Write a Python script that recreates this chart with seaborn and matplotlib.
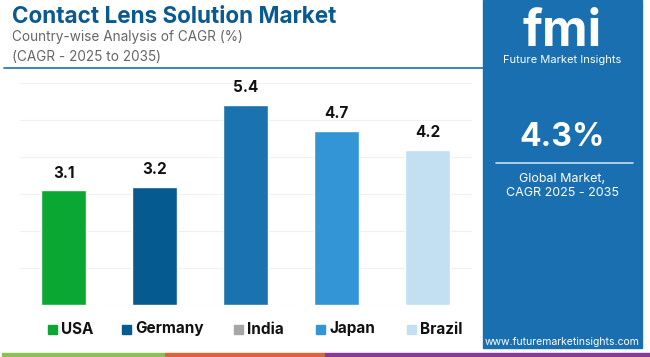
import matplotlib
matplotlib.use("Agg")
import matplotlib.pyplot as plt
import seaborn as sns
import pandas as pd
from matplotlib.patches import Rectangle

# Data
countries = ["USA", "Germany", "India", "Japan", "Brazil"]
cagr = [3.1, 3.2, 5.4, 4.7, 4.2]
bar_colors = ["#0aa832", "#055a8f", "#1a73ae", "#3395d5", "#c2e0f2"]
legend_colors = ["#0aa832", "#055a8f", "#a6a6a6", "#3395d5", "#c2e0f2"]
global_cagr = "4.3%"

df = pd.DataFrame({"country": countries, "cagr": cagr})

sns.set_theme(style="white")
plt.rcParams["font.family"] = ["Inter", "DejaVu Sans"]

W, H = 650, 357
fig = plt.figure(figsize=(W / 100, H / 100), dpi=100)
fig.patch.set_facecolor("white")

def fx(px):
    return px / W

def fy(py):
    return 1 - py / H

# plot area
ax = fig.add_axes([fx(20), fy(305), fx(472) - fx(20), fy(83) - fy(305)])
sns.barplot(data=df, x="country", y="cagr", hue="country", palette=bar_colors,
            width=0.5, legend=False, ax=ax, saturation=1)
ax.set_xlim(-0.48, 4.49)
ax.set_ylim(0, 6)
ax.set_yticks(range(0, 7))
ax.yaxis.grid(True, color="#f0f0f0", linewidth=0.8)
ax.set_axisbelow(True)
for s in ax.spines.values():
    s.set_visible(False)
ax.set_xticks([])
ax.set_yticklabels([])
ax.tick_params(left=False, bottom=False)
ax.set_xlabel("")
ax.set_ylabel("")
for cont in ax.containers:
    ax.bar_label(cont, fmt="%.1f", padding=7, fontsize=11, fontweight="bold", color="#111111")

# title block
fig.text(fx(12), fy(17), "Contact Lens Solution Market", fontsize=16.2, fontweight="bold",
         color="#0b5a8f", va="center", ha="left")
fig.text(fx(12), fy(37), "Country-wise Analysis of CAGR (%)", fontsize=9.8,
         color="#666666", va="center", ha="left")
fig.text(fx(12), fy(57), "(CAGR - 2025 to 2035)", fontsize=9.8,
         color="#666666", va="center", ha="left")
fig.add_artist(plt.Line2D([fx(4), fx(483)], [fy(68), fy(68)], color="#1a6fb0", linewidth=1.2))

# legend
leg_sq = [48, 122, 234, 316, 407]
for x0, name, col in zip(leg_sq, countries, legend_colors):
    fig.add_artist(Rectangle((fx(x0), fy(334)), fx(9), 9 / H, color=col, transform=fig.transFigure))
    fig.text(fx(x0 + 13), fy(329), name, fontsize=11, fontweight="bold", color="#111111",
             va="center", ha="left")

# bottom coloured strip
for x0, x1, col in [(2, 165, "#8cc152"), (165, 325, "#e0643a"), (325, 650, "#8a3b97")]:
    fig.add_artist(Rectangle((fx(x0), 0), fx(x1) - fx(x0), 4 / H, color=col, transform=fig.transFigure))

# right panel
fig.add_artist(Rectangle((fx(483), fy(348)), fx(642) - fx(483), 348 / H, color="#1a6fb0",
                         transform=fig.transFigure, zorder=2))
fig.text(fx(562), fy(32), "fmi", fontsize=36, fontweight="bold", color="white",
         ha="center", va="center", zorder=3)
fig.text(fx(562), fy(60), "Future Market Insights", fontsize=8, color="white",
         ha="center", va="center", zorder=3)
fig.text(fx(562), fy(137), global_cagr, fontsize=23, fontweight="bold", color="white",
         ha="center", va="center", zorder=3)
fig.add_artist(plt.Line2D([fx(496), fx(633)], [fy(163), fy(163)], color="#c8dcee", linewidth=1.2, zorder=3))
fig.text(fx(562), fy(179), "Global Market,", fontsize=9, color="white", ha="center", va="center", zorder=3)
fig.text(fx(562), fy(193), "CAGR 2025 - 2035", fontsize=9, color="white", ha="center", va="center", zorder=3)
fig.text(fx(562), fy(342), "www.futuremarketinsights.com", fontsize=7.5, color="white",
         ha="center", va="center", zorder=3)

fig.savefig("out.png", dpi=100, facecolor="white")
